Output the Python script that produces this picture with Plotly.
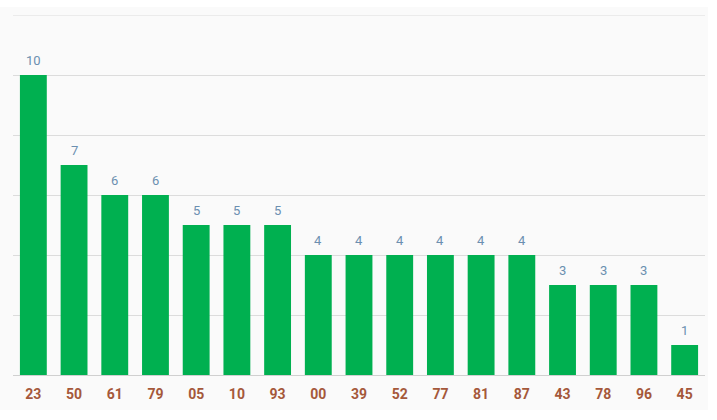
import plotly.graph_objects as go

categories = ["23", "50", "61", "79", "05", "10", "93", "00", "39", "52", "77", "81", "87", "43", "78", "96", "45"]
values = [10, 7, 6, 6, 5, 5, 5, 4, 4, 4, 4, 4, 4, 3, 3, 3, 1]
y_max = 12

fig = go.Figure(go.Bar(
    x=categories, y=values,
    marker=dict(color="#00b050", line=dict(width=0)),
    hoverinfo="x+y",
))

for i, v in enumerate(values):
    fig.add_annotation(x=i, y=v, text=str(v), showarrow=False, yanchor="bottom",
                       yshift=5, font=dict(family="Roboto", size=13, color="#6b8fb0"))

W, H = 717, 420
ml, mr, mt, mb = 13, 12, 15, 45
pw, ph = W - ml - mr, H - mt - mb
# background panel (in paper coords)
x0 = (0 - ml) / pw
x1 = (708 - ml) / pw
y1 = (H - mb - 7) / ph
y0 = (H - mb - 410) / ph
fig.add_shape(type="rect", xref="paper", yref="paper", x0=x0, x1=x1, y0=y0, y1=y1,
              fillcolor="#fafafa", line=dict(width=0), layer="below")
# top gridline
fig.add_shape(type="line", xref="paper", yref="y", x0=0, x1=1, y0=y_max, y1=y_max,
              line=dict(color="#dcdcdc", width=1), layer="below")

fig.update_layout(
    width=W, height=H,
    margin=dict(l=ml, r=mr, t=mt, b=mb),
    paper_bgcolor="white", plot_bgcolor="rgba(0,0,0,0)",
    bargap=0.34, showlegend=False,
    font=dict(family="Roboto"),
    xaxis=dict(type="category", categoryorder="array", categoryarray=categories,
               range=[-0.5, len(categories) - 0.5],
               showgrid=False, ticks="", showline=False,
               ticklabelstandoff=9,
               tickfont=dict(family="Roboto", size=14, color="#a5583a", weight="bold")),
    yaxis=dict(range=[0, y_max], tickvals=[0, 2, 4, 6, 8, 10, 12], showticklabels=False,
               gridcolor="#dcdcdc",
               zeroline=True, zerolinecolor="#d0d0d0", zerolinewidth=1, showline=False),
)
fig.write_html("out.html")
